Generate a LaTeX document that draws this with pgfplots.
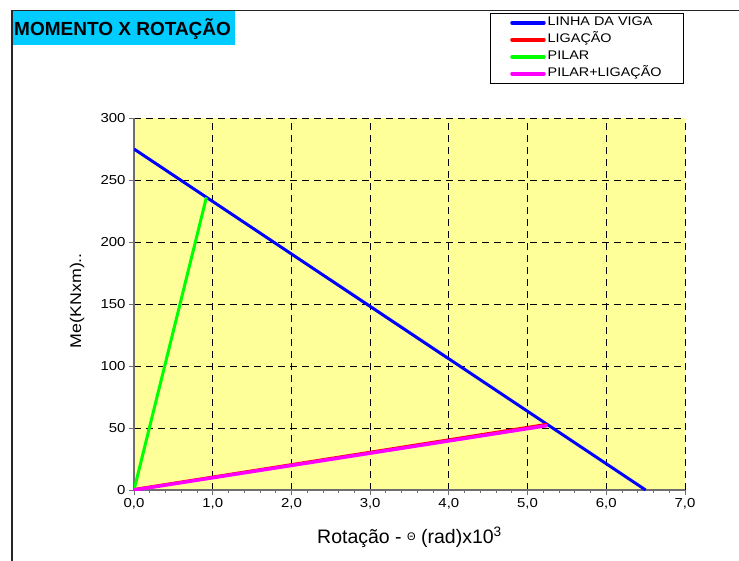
\documentclass[border=0pt]{standalone}
\usepackage{fontspec}
\setmainfont{Liberation Sans}[FakeStretch=1.15]
\newfontfamily\titlefont{Liberation Sans}
\newfontfamily\plainfont{Liberation Sans}
\usepackage{pgfplots}
\pgfplotsset{compat=1.18}
\definecolor{bgyellow}{RGB}{255,255,153}
\definecolor{titlecyan}{RGB}{0,204,255}
\definecolor{pgreen}{RGB}{0,255,0}
\definecolor{pblue}{RGB}{0,0,255}
\definecolor{pred}{RGB}{255,0,0}
\definecolor{pmag}{RGB}{255,0,255}
\definecolor{axgray}{RGB}{110,110,110}
\begin{document}
\begin{tikzpicture}
\useasboundingbox (0pt,0pt) rectangle (739pt,-560pt);
\draw[line width=1.5pt, black!85] (12pt,-600pt) -- (12pt,-10.5pt) -- (780pt,-10.5pt);
\fill[titlecyan] (12.75pt,-11.25pt) rectangle (235pt,-45pt);
\node[anchor=west, inner sep=0pt] at (14pt,-29pt) {\titlefont\fontsize{19}{21}\selectfont\bfseries MOMENTO X ROTAÇÃO};
\begin{axis}[
  at={(134pt,-490pt)}, anchor=south west,
  scale only axis, width=551pt, height=372pt,
  xmin=0, xmax=7, ymin=0, ymax=300,
  axis lines=left,
  axis line style={axgray, line width=1.2pt, -},
  axis background/.style={fill=bgyellow},
  xtick={0,...,7}, ytick={0,50,...,300},
  minor x tick num=4,
  tick align=outside,
  major tick length=5pt, minor tick length=3pt,
  tick style={axgray, line width=0.8pt},
  grid=major,
  major grid style={black, line width=0.8pt, dash pattern=on 7pt off 5pt},
  /pgf/number format/assume math mode=true,
  x tick label style={/pgf/number format/fixed, /pgf/number format/fixed zerofill, /pgf/number format/precision=1, /pgf/number format/use comma},
  ticklabel style={font=\fontsize{13}{14}\selectfont},
  xlabel={Rotação - \raisebox{0.35ex}{\plainfont\fontsize{11}{11}\selectfont Θ} (rad)x10\textsuperscript{3}},
  xlabel style={at={(axis description cs:0.5,-0.145)}, anchor=base, font=\plainfont\fontsize{19.5}{20}\selectfont},
  ylabel={Me(KNxm)..},
  ylabel style={at={(axis description cs:-0.096,0.509)}, anchor=base, font=\fontsize{15.5}{16}\selectfont},
  legend style={at={(axis description cs:0.646,1.282)}, anchor=north west, draw=black, line width=0.6pt, fill=white,
    font=\fontsize{12.5}{13}\selectfont, inner xsep=20pt, inner ysep=2pt, row sep=2pt,
    nodes={inner sep=2pt, text height=8.5pt, text depth=2.5pt}},
  legend cell align=left,
  legend image code/.code={\draw[#1, line width=3.5pt, line cap=round] (1pt,0pt) -- (33pt,0pt);},
]
\addplot[pblue, line width=3pt] coordinates {(0,275) (6.5,0)};
\addlegendentry{LINHA DA VIGA}
\addplot[pred, line width=2.5pt] coordinates {(0,0.6) (5.25,53.2)};
\addlegendentry{LIGAÇÃO}
\addplot[pgreen, line width=3pt] coordinates {(0,0) (0.92,236)};
\addlegendentry{PILAR}
\addplot[pmag, line width=3.5pt] coordinates {(0,0) (5.25,52)};
\addlegendentry{PILAR+LIGAÇÃO}
\end{axis}
\end{tikzpicture}
\end{document}
